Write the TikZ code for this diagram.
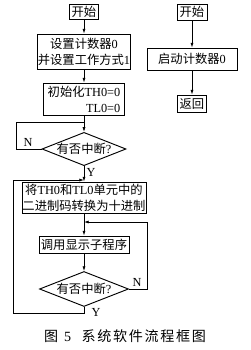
\documentclass[tikz,border=0pt]{standalone}
\usepackage{fontspec}
\setmainfont{Liberation Serif}
\newfontfamily\cjk{Noto Sans CJK SC}
\newfontfamily\cjkcap[LetterSpace=12]{Noto Sans CJK SC}
\usepackage{tikz}
\usetikzlibrary{shapes.geometric, arrows.meta, positioning}

\tikzset{
    procbox/.style={draw, line width=0.8pt, inner sep=0pt, align=center,
        font=\fontsize{10.5}{13.5}\selectfont},
    decision/.style={diamond, draw, line width=0.8pt, inner sep=0pt, aspect=2.5,
        font=\fontsize{10.5}{12}\selectfont},
    conn/.style={line width=0.6pt},
    flow/.style={conn, -{Latex[length=4pt,width=2.6pt]}},
    lbl/.style={font=\fontsize{10.5}{12}\selectfont, inner sep=0pt}
}

\begin{document}
\begin{tikzpicture}[x=0.03cm, y=-0.03cm]
        \useasboundingbox[fill=white] (0,0) rectangle (251,350);
        % main program
        \node[procbox, minimum width=0.87cm, minimum height=0.45cm] (start) at (84,12) {{\cjk 开始}};
        \node[procbox, minimum width=2.34cm, minimum height=1.05cm] (setcnt) at (84,51.5) {{\cjk 设置计数器}0\\{\cjk 并设置工作方式}1};
        \node[procbox, minimum width=2.43cm, minimum height=0.96cm, align=right] (init) at (84,99) {{\cjk 初始化}TH0=0\\TL0=0};
        \node[decision, minimum width=2.52cm, minimum height=0.99cm] (ask1) at (84,149) {{\cjk 有否中断}?};
        \node[procbox, minimum width=3.72cm, minimum height=0.93cm] (conv) at (84,197.5) {{\cjk 将}TH0{\cjk 和}TL0{\cjk 单元中的}\\{\cjk 二进制码转换为十进制}};
        \node[procbox, minimum width=2.7cm, minimum height=0.51cm] (disp) at (84,244.5) {{\cjk 调用显示子程序}};
        \node[decision, minimum width=2.67cm, minimum height=1.05cm] (ask2) at (84,289) {{\cjk 有否中断}?};

        % interrupt routine
        \node[procbox, minimum width=0.9cm, minimum height=0.48cm] (start2) at (192,12) {{\cjk 开始}};
        \node[procbox, minimum width=2.7cm, minimum height=0.66cm] (run) at (192,59) {{\cjk 启动计数器}0};
        \node[procbox, minimum width=0.87cm, minimum height=0.51cm] (ret) at (192,103.5) {{\cjk 返回}};

        % loop corners
        \coordinate (j1) at (84,122);
        \coordinate (l1a) at (16,149);
        \coordinate (l1b) at (16,122);
        \coordinate (j2) at (84,180);
        \coordinate (l2a) at (84,313);
        \coordinate (l2b) at (13,313);
        \coordinate (l2c) at (13,180);
        \coordinate (j3) at (84,222);
        \coordinate (l3a) at (147,289);
        \coordinate (l3b) at (147,222);

        \draw[flow] (start) -- (setcnt);
        \draw[flow] (setcnt) -- (init);
        \draw[flow] (init) -- (ask1);
        \draw[flow] (ask1) -- (conv);
        \draw[flow] (conv) -- (disp);
        \draw[flow] (disp) -- (ask2);
        \draw[flow] (start2) -- (run);
        \draw[flow] (run) -- (ret);

        \draw[conn] (ask1.west) -- (l1a) -- (l1b) -- (j1);
        \draw[flow] (ask2.south) -- (l2a) -- (l2b) -- (l2c) -- (j2);
        \draw[flow] (ask2.east) -- (l3a) -- (l3b) -- (j3);

        \node[lbl] (n1) at (28,142) {N};
        \node[lbl] (y1) at (91,172) {Y};
        \node[lbl] (n2) at (137,282) {N};
        \node[lbl] (y2) at (96,312) {Y};

        \node[lbl, anchor=west, font=\fontsize{12}{14}\selectfont] (cap) at (44,336) {{\cjkcap 图}\hspace{5pt}5\hspace{9pt}{\cjkcap 系统软件流程框图}};
    \end{tikzpicture}
\end{document}
